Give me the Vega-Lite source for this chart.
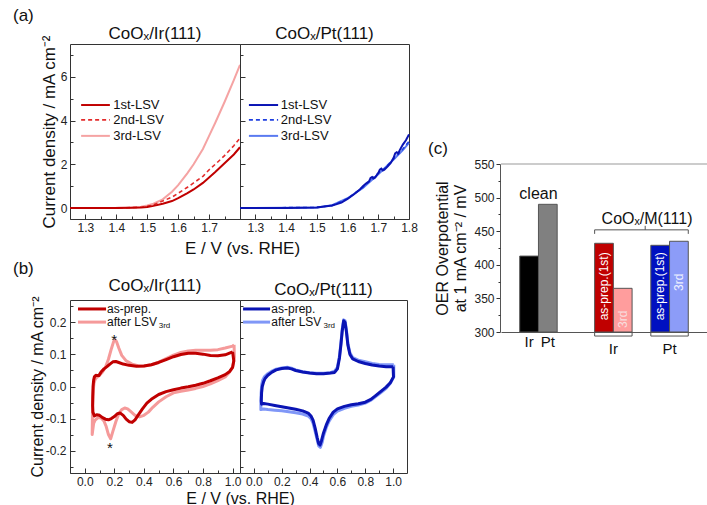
{
"$schema":"https://vega.github.io/schema/vega-lite/v6.json",
"padding":{"left":13,"top":7,"right":0,"bottom":0},
"background":"white",
"config":{
 "font":"Liberation Sans",
 "view":{"stroke":"#333","strokeWidth":1},
 "axis":{"domain":false,"grid":false,"labelFont":"Liberation Sans","labelFontSize":12,"labelColor":"#222","titleFont":"Liberation Sans","titleFontWeight":"normal","titleColor":"#111","tickColor":"#333","labelFlush":false,"labelOverlap":false,"labelBound":false,"tickCount":60},
 "title":{"font":"Liberation Sans","fontWeight":"normal","fontSize":17,"color":"#111"},
 "text":{"font":"Liberation Sans","color":"#111"}
},
"datasets":{
 "lsvIr":[
  {"s":"1st","E":1.25,"j":0},{"s":"1st","E":1.3,"j":0},{"s":"1st","E":1.35,"j":0},{"s":"1st","E":1.4,"j":0.005},{"s":"1st","E":1.45,"j":0.01},{"s":"1st","E":1.48,"j":0.02},{"s":"1st","E":1.5,"j":0.05},{"s":"1st","E":1.52,"j":0.1},{"s":"1st","E":1.55,"j":0.2},{"s":"1st","E":1.58,"j":0.32},{"s":"1st","E":1.6,"j":0.45},{"s":"1st","E":1.63,"j":0.68},{"s":"1st","E":1.65,"j":0.85},{"s":"1st","E":1.68,"j":1.15},{"s":"1st","E":1.7,"j":1.4},{"s":"1st","E":1.72,"j":1.65},{"s":"1st","E":1.75,"j":2.05},{"s":"1st","E":1.78,"j":2.45},{"s":"1st","E":1.8,"j":2.78},
  {"s":"2nd","E":1.25,"j":0},{"s":"2nd","E":1.4,"j":0.005},{"s":"2nd","E":1.45,"j":0.02},{"s":"2nd","E":1.48,"j":0.04},{"s":"2nd","E":1.5,"j":0.08},{"s":"2nd","E":1.52,"j":0.15},{"s":"2nd","E":1.55,"j":0.32},{"s":"2nd","E":1.58,"j":0.5},{"s":"2nd","E":1.6,"j":0.68},{"s":"2nd","E":1.63,"j":0.95},{"s":"2nd","E":1.65,"j":1.15},{"s":"2nd","E":1.68,"j":1.45},{"s":"2nd","E":1.7,"j":1.75},{"s":"2nd","E":1.72,"j":2.0},{"s":"2nd","E":1.75,"j":2.4},{"s":"2nd","E":1.78,"j":2.85},{"s":"2nd","E":1.8,"j":3.2},
  {"s":"3rd","E":1.25,"j":0},{"s":"3rd","E":1.4,"j":0.01},{"s":"3rd","E":1.45,"j":0.03},{"s":"3rd","E":1.48,"j":0.06},{"s":"3rd","E":1.5,"j":0.12},{"s":"3rd","E":1.52,"j":0.2},{"s":"3rd","E":1.55,"j":0.4},{"s":"3rd","E":1.58,"j":0.75},{"s":"3rd","E":1.6,"j":1.05},{"s":"3rd","E":1.63,"j":1.6},{"s":"3rd","E":1.65,"j":2.0},{"s":"3rd","E":1.68,"j":2.7},{"s":"3rd","E":1.7,"j":3.3},{"s":"3rd","E":1.72,"j":3.9},{"s":"3rd","E":1.75,"j":4.85},{"s":"3rd","E":1.78,"j":5.85},{"s":"3rd","E":1.8,"j":6.55}
 ],
 "lsvPt":[
  {"s":"1st","E":1.25,"j":0},{"s":"1st","E":1.4,"j":0},{"s":"1st","E":1.5,"j":0.03},{"s":"1st","E":1.55,"j":0.12},{"s":"1st","E":1.58,"j":0.25},{"s":"1st","E":1.6,"j":0.42},{"s":"1st","E":1.62,"j":0.62},{"s":"1st","E":1.64,"j":0.85},{"s":"1st","E":1.65,"j":1.0},{"s":"1st","E":1.66,"j":1.12},{"s":"1st","E":1.67,"j":1.22},{"s":"1st","E":1.675,"j":1.38},{"s":"1st","E":1.68,"j":1.42},{"s":"1st","E":1.685,"j":1.35},{"s":"1st","E":1.69,"j":1.4},{"s":"1st","E":1.7,"j":1.6},{"s":"1st","E":1.705,"j":1.75},{"s":"1st","E":1.71,"j":1.8},{"s":"1st","E":1.715,"j":1.72},{"s":"1st","E":1.72,"j":1.75},{"s":"1st","E":1.73,"j":1.9},{"s":"1st","E":1.74,"j":2.05},{"s":"1st","E":1.75,"j":2.3},{"s":"1st","E":1.755,"j":2.5},{"s":"1st","E":1.76,"j":2.55},{"s":"1st","E":1.765,"j":2.5},{"s":"1st","E":1.77,"j":2.65},{"s":"1st","E":1.78,"j":2.9},{"s":"1st","E":1.79,"j":3.1},{"s":"1st","E":1.8,"j":3.37},
  {"s":"2nd","E":1.25,"j":0},{"s":"2nd","E":1.5,"j":0.03},{"s":"2nd","E":1.55,"j":0.12},{"s":"2nd","E":1.6,"j":0.43},{"s":"2nd","E":1.65,"j":0.95},{"s":"2nd","E":1.7,"j":1.6},{"s":"2nd","E":1.72,"j":1.8},{"s":"2nd","E":1.75,"j":2.25},{"s":"2nd","E":1.78,"j":2.7},{"s":"2nd","E":1.8,"j":3.05},
  {"s":"3rd","E":1.25,"j":0},{"s":"3rd","E":1.5,"j":0.03},{"s":"3rd","E":1.55,"j":0.13},{"s":"3rd","E":1.6,"j":0.45},{"s":"3rd","E":1.65,"j":0.92},{"s":"3rd","E":1.7,"j":1.55},{"s":"3rd","E":1.75,"j":2.22},{"s":"3rd","E":1.78,"j":2.65},{"s":"3rd","E":1.8,"j":2.98}
 ],
 "cvIr":[
  {"s":"a","i":0,"E":1.0,"j":0.108},{"s":"a","i":1,"E":1.008,"j":0.08},{"s":"a","i":2,"E":1.0,"j":0.06},{"s":"a","i":3,"E":0.98,"j":0.047},{"s":"a","i":4,"E":0.95,"j":0.037},{"s":"a","i":5,"E":0.9,"j":0.027},{"s":"a","i":6,"E":0.85,"j":0.018},{"s":"a","i":7,"E":0.8,"j":0.01},{"s":"a","i":8,"E":0.75,"j":0.004},{"s":"a","i":9,"E":0.7,"j":-0.001},{"s":"a","i":10,"E":0.65,"j":-0.005},{"s":"a","i":11,"E":0.6,"j":-0.01},{"s":"a","i":12,"E":0.55,"j":-0.016},{"s":"a","i":13,"E":0.5,"j":-0.025},{"s":"a","i":14,"E":0.45,"j":-0.04},{"s":"a","i":15,"E":0.42,"j":-0.052},{"s":"a","i":16,"E":0.39,"j":-0.07},{"s":"a","i":17,"E":0.36,"j":-0.09},{"s":"a","i":18,"E":0.34,"j":-0.104},{"s":"a","i":19,"E":0.32,"j":-0.112},{"s":"a","i":20,"E":0.3,"j":-0.11},{"s":"a","i":21,"E":0.28,"j":-0.102},{"s":"a","i":22,"E":0.26,"j":-0.09},{"s":"a","i":23,"E":0.24,"j":-0.083},{"s":"a","i":24,"E":0.22,"j":-0.085},{"s":"a","i":25,"E":0.2,"j":-0.094},{"s":"a","i":26,"E":0.18,"j":-0.1},{"s":"a","i":27,"E":0.16,"j":-0.104},{"s":"a","i":28,"E":0.14,"j":-0.102},{"s":"a","i":29,"E":0.12,"j":-0.097},{"s":"a","i":30,"E":0.1,"j":-0.09},{"s":"a","i":31,"E":0.08,"j":-0.088},{"s":"a","i":32,"E":0.065,"j":-0.092},{"s":"a","i":33,"E":0.055,"j":-0.08},{"s":"a","i":34,"E":0.053,"j":-0.06},{"s":"a","i":35,"E":0.054,"j":-0.03},{"s":"a","i":36,"E":0.056,"j":0.0},{"s":"a","i":37,"E":0.06,"j":0.02},{"s":"a","i":38,"E":0.065,"j":0.03},{"s":"a","i":39,"E":0.075,"j":0.035},{"s":"a","i":40,"E":0.085,"j":0.034},{"s":"a","i":41,"E":0.095,"j":0.034},{"s":"a","i":42,"E":0.11,"j":0.045},{"s":"a","i":43,"E":0.13,"j":0.055},{"s":"a","i":44,"E":0.15,"j":0.062},{"s":"a","i":45,"E":0.17,"j":0.07},{"s":"a","i":46,"E":0.19,"j":0.077},{"s":"a","i":47,"E":0.21,"j":0.078},{"s":"a","i":48,"E":0.23,"j":0.075},{"s":"a","i":49,"E":0.26,"j":0.07},{"s":"a","i":50,"E":0.3,"j":0.066},{"s":"a","i":51,"E":0.35,"j":0.063},{"s":"a","i":52,"E":0.4,"j":0.064},{"s":"a","i":53,"E":0.45,"j":0.068},{"s":"a","i":54,"E":0.5,"j":0.075},{"s":"a","i":55,"E":0.55,"j":0.084},{"s":"a","i":56,"E":0.6,"j":0.093},{"s":"a","i":57,"E":0.65,"j":0.1},{"s":"a","i":58,"E":0.7,"j":0.104},{"s":"a","i":59,"E":0.75,"j":0.104},{"s":"a","i":60,"E":0.8,"j":0.101},{"s":"a","i":61,"E":0.85,"j":0.097},{"s":"a","i":62,"E":0.9,"j":0.096},{"s":"a","i":63,"E":0.95,"j":0.099},{"s":"a","i":64,"E":1.0,"j":0.108},
  {"s":"b","i":0,"E":1.01,"j":0.13},{"s":"b","i":1,"E":1.012,"j":0.09},{"s":"b","i":2,"E":1.0,"j":0.06},{"s":"b","i":3,"E":0.98,"j":0.045},{"s":"b","i":4,"E":0.95,"j":0.03},{"s":"b","i":5,"E":0.9,"j":0.018},{"s":"b","i":6,"E":0.85,"j":0.008},{"s":"b","i":7,"E":0.8,"j":0.0},{"s":"b","i":8,"E":0.75,"j":-0.006},{"s":"b","i":9,"E":0.7,"j":-0.011},{"s":"b","i":10,"E":0.65,"j":-0.015},{"s":"b","i":11,"E":0.6,"j":-0.02},{"s":"b","i":12,"E":0.55,"j":-0.032},{"s":"b","i":13,"E":0.5,"j":-0.048},{"s":"b","i":14,"E":0.46,"j":-0.065},{"s":"b","i":15,"E":0.43,"j":-0.08},{"s":"b","i":16,"E":0.4,"j":-0.09},{"s":"b","i":17,"E":0.37,"j":-0.095},{"s":"b","i":18,"E":0.34,"j":-0.09},{"s":"b","i":19,"E":0.31,"j":-0.078},{"s":"b","i":20,"E":0.29,"j":-0.07},{"s":"b","i":21,"E":0.27,"j":-0.067},{"s":"b","i":22,"E":0.25,"j":-0.072},{"s":"b","i":23,"E":0.23,"j":-0.085},{"s":"b","i":24,"E":0.21,"j":-0.11},{"s":"b","i":25,"E":0.19,"j":-0.14},{"s":"b","i":26,"E":0.175,"j":-0.163},{"s":"b","i":27,"E":0.16,"j":-0.15},{"s":"b","i":28,"E":0.145,"j":-0.125},{"s":"b","i":29,"E":0.13,"j":-0.108},{"s":"b","i":30,"E":0.11,"j":-0.098},{"s":"b","i":31,"E":0.09,"j":-0.097},{"s":"b","i":32,"E":0.07,"j":-0.105},{"s":"b","i":33,"E":0.06,"j":-0.115},{"s":"b","i":34,"E":0.05,"j":-0.15},{"s":"b","i":35,"E":0.051,"j":-0.12},{"s":"b","i":36,"E":0.052,"j":-0.08},{"s":"b","i":37,"E":0.055,"j":-0.04},{"s":"b","i":38,"E":0.058,"j":-0.01},{"s":"b","i":39,"E":0.062,"j":0.01},{"s":"b","i":40,"E":0.07,"j":0.022},{"s":"b","i":41,"E":0.08,"j":0.028},{"s":"b","i":42,"E":0.1,"j":0.035},{"s":"b","i":43,"E":0.12,"j":0.045},{"s":"b","i":44,"E":0.14,"j":0.06},{"s":"b","i":45,"E":0.16,"j":0.085},{"s":"b","i":46,"E":0.18,"j":0.118},{"s":"b","i":47,"E":0.195,"j":0.14},{"s":"b","i":48,"E":0.205,"j":0.146},{"s":"b","i":49,"E":0.215,"j":0.14},{"s":"b","i":50,"E":0.23,"j":0.12},{"s":"b","i":51,"E":0.25,"j":0.097},{"s":"b","i":52,"E":0.28,"j":0.08},{"s":"b","i":53,"E":0.32,"j":0.07},{"s":"b","i":54,"E":0.36,"j":0.065},{"s":"b","i":55,"E":0.4,"j":0.064},{"s":"b","i":56,"E":0.45,"j":0.068},{"s":"b","i":57,"E":0.5,"j":0.076},{"s":"b","i":58,"E":0.55,"j":0.087},{"s":"b","i":59,"E":0.6,"j":0.098},{"s":"b","i":60,"E":0.65,"j":0.106},{"s":"b","i":61,"E":0.7,"j":0.111},{"s":"b","i":62,"E":0.75,"j":0.113},{"s":"b","i":63,"E":0.8,"j":0.113},{"s":"b","i":64,"E":0.85,"j":0.113},{"s":"b","i":65,"E":0.9,"j":0.115},{"s":"b","i":66,"E":0.95,"j":0.12},{"s":"b","i":67,"E":1.0,"j":0.126},{"s":"b","i":68,"E":1.01,"j":0.13}
 ],
 "cvPt":[
  {"s":"a","i":0,"E":1.0,"j":0.062},{"s":"a","i":1,"E":1.003,"j":0.03},{"s":"a","i":2,"E":0.98,"j":0.012},{"s":"a","i":3,"E":0.95,"j":-0.002},{"s":"a","i":4,"E":0.91,"j":-0.016},{"s":"a","i":5,"E":0.87,"j":-0.03},{"s":"a","i":6,"E":0.84,"j":-0.04},{"s":"a","i":7,"E":0.8,"j":-0.049},{"s":"a","i":8,"E":0.75,"j":-0.054},{"s":"a","i":9,"E":0.7,"j":-0.057},{"s":"a","i":10,"E":0.65,"j":-0.062},{"s":"a","i":11,"E":0.6,"j":-0.07},{"s":"a","i":12,"E":0.57,"j":-0.08},{"s":"a","i":13,"E":0.54,"j":-0.1},{"s":"a","i":14,"E":0.52,"j":-0.12},{"s":"a","i":15,"E":0.5,"j":-0.145},{"s":"a","i":16,"E":0.485,"j":-0.17},{"s":"a","i":17,"E":0.475,"j":-0.183},{"s":"a","i":18,"E":0.465,"j":-0.178},{"s":"a","i":19,"E":0.455,"j":-0.16},{"s":"a","i":20,"E":0.44,"j":-0.13},{"s":"a","i":21,"E":0.425,"j":-0.105},{"s":"a","i":22,"E":0.41,"j":-0.092},{"s":"a","i":23,"E":0.39,"j":-0.083},{"s":"a","i":24,"E":0.35,"j":-0.076},{"s":"a","i":25,"E":0.3,"j":-0.071},{"s":"a","i":26,"E":0.25,"j":-0.067},{"s":"a","i":27,"E":0.2,"j":-0.063},{"s":"a","i":28,"E":0.15,"j":-0.059},{"s":"a","i":29,"E":0.1,"j":-0.055},{"s":"a","i":30,"E":0.07,"j":-0.053},{"s":"a","i":31,"E":0.055,"j":-0.055},{"s":"a","i":32,"E":0.053,"j":-0.045},{"s":"a","i":33,"E":0.055,"j":-0.02},{"s":"a","i":34,"E":0.06,"j":0.0},{"s":"a","i":35,"E":0.07,"j":0.015},{"s":"a","i":36,"E":0.08,"j":0.025},{"s":"a","i":37,"E":0.1,"j":0.035},{"s":"a","i":38,"E":0.13,"j":0.045},{"s":"a","i":39,"E":0.16,"j":0.052},{"s":"a","i":40,"E":0.2,"j":0.056},{"s":"a","i":41,"E":0.24,"j":0.058},{"s":"a","i":42,"E":0.27,"j":0.055},{"s":"a","i":43,"E":0.3,"j":0.05},{"s":"a","i":44,"E":0.35,"j":0.045},{"s":"a","i":45,"E":0.4,"j":0.042},{"s":"a","i":46,"E":0.45,"j":0.04},{"s":"a","i":47,"E":0.5,"j":0.04},{"s":"a","i":48,"E":0.55,"j":0.042},{"s":"a","i":49,"E":0.58,"j":0.044},{"s":"a","i":50,"E":0.6,"j":0.055},{"s":"a","i":51,"E":0.615,"j":0.09},{"s":"a","i":52,"E":0.625,"j":0.13},{"s":"a","i":53,"E":0.635,"j":0.175},{"s":"a","i":54,"E":0.645,"j":0.205},{"s":"a","i":55,"E":0.655,"j":0.2},{"s":"a","i":56,"E":0.665,"j":0.17},{"s":"a","i":57,"E":0.675,"j":0.13},{"s":"a","i":58,"E":0.69,"j":0.1},{"s":"a","i":59,"E":0.71,"j":0.086},{"s":"a","i":60,"E":0.75,"j":0.078},{"s":"a","i":61,"E":0.8,"j":0.072},{"s":"a","i":62,"E":0.85,"j":0.067},{"s":"a","i":63,"E":0.9,"j":0.064},{"s":"a","i":64,"E":0.95,"j":0.062},{"s":"a","i":65,"E":1.0,"j":0.062},
  {"s":"b","i":0,"E":1.005,"j":0.068},{"s":"b","i":1,"E":1.005,"j":0.03},{"s":"b","i":2,"E":0.98,"j":0.01},{"s":"b","i":3,"E":0.95,"j":-0.006},{"s":"b","i":4,"E":0.91,"j":-0.02},{"s":"b","i":5,"E":0.87,"j":-0.033},{"s":"b","i":6,"E":0.84,"j":-0.043},{"s":"b","i":7,"E":0.8,"j":-0.052},{"s":"b","i":8,"E":0.75,"j":-0.058},{"s":"b","i":9,"E":0.7,"j":-0.062},{"s":"b","i":10,"E":0.65,"j":-0.068},{"s":"b","i":11,"E":0.6,"j":-0.077},{"s":"b","i":12,"E":0.57,"j":-0.088},{"s":"b","i":13,"E":0.54,"j":-0.108},{"s":"b","i":14,"E":0.52,"j":-0.128},{"s":"b","i":15,"E":0.5,"j":-0.155},{"s":"b","i":16,"E":0.49,"j":-0.175},{"s":"b","i":17,"E":0.478,"j":-0.19},{"s":"b","i":18,"E":0.465,"j":-0.185},{"s":"b","i":19,"E":0.455,"j":-0.167},{"s":"b","i":20,"E":0.44,"j":-0.14},{"s":"b","i":21,"E":0.425,"j":-0.114},{"s":"b","i":22,"E":0.41,"j":-0.1},{"s":"b","i":23,"E":0.39,"j":-0.092},{"s":"b","i":24,"E":0.35,"j":-0.086},{"s":"b","i":25,"E":0.3,"j":-0.082},{"s":"b","i":26,"E":0.25,"j":-0.079},{"s":"b","i":27,"E":0.2,"j":-0.076},{"s":"b","i":28,"E":0.15,"j":-0.074},{"s":"b","i":29,"E":0.1,"j":-0.072},{"s":"b","i":30,"E":0.07,"j":-0.07},{"s":"b","i":31,"E":0.05,"j":-0.072},{"s":"b","i":32,"E":0.05,"j":-0.05},{"s":"b","i":33,"E":0.052,"j":-0.02},{"s":"b","i":34,"E":0.056,"j":0.005},{"s":"b","i":35,"E":0.063,"j":0.02},{"s":"b","i":36,"E":0.075,"j":0.03},{"s":"b","i":37,"E":0.1,"j":0.04},{"s":"b","i":38,"E":0.13,"j":0.048},{"s":"b","i":39,"E":0.16,"j":0.054},{"s":"b","i":40,"E":0.2,"j":0.058},{"s":"b","i":41,"E":0.24,"j":0.06},{"s":"b","i":42,"E":0.27,"j":0.057},{"s":"b","i":43,"E":0.3,"j":0.052},{"s":"b","i":44,"E":0.35,"j":0.046},{"s":"b","i":45,"E":0.4,"j":0.043},{"s":"b","i":46,"E":0.45,"j":0.041},{"s":"b","i":47,"E":0.5,"j":0.041},{"s":"b","i":48,"E":0.55,"j":0.043},{"s":"b","i":49,"E":0.58,"j":0.048},{"s":"b","i":50,"E":0.6,"j":0.06},{"s":"b","i":51,"E":0.615,"j":0.095},{"s":"b","i":52,"E":0.625,"j":0.135},{"s":"b","i":53,"E":0.635,"j":0.18},{"s":"b","i":54,"E":0.645,"j":0.208},{"s":"b","i":55,"E":0.655,"j":0.205},{"s":"b","i":56,"E":0.665,"j":0.175},{"s":"b","i":57,"E":0.675,"j":0.135},{"s":"b","i":58,"E":0.69,"j":0.105},{"s":"b","i":59,"E":0.71,"j":0.09},{"s":"b","i":60,"E":0.75,"j":0.082},{"s":"b","i":61,"E":0.8,"j":0.077},{"s":"b","i":62,"E":0.85,"j":0.072},{"s":"b","i":63,"E":0.9,"j":0.069},{"s":"b","i":64,"E":0.95,"j":0.068},{"s":"b","i":65,"E":1.005,"j":0.068}
 ],
 "bars":[
  {"cat":"Ir-clean","v":413},{"cat":"Pt-clean","v":490},{"cat":"Ir-as","v":432},{"cat":"Ir-3rd","v":365},{"cat":"Pt-as","v":429},{"cat":"Pt-3rd","v":435}
 ]
},
"columns":3,
"spacing":{"row":81,"column":0},
"bounds":"flush",
"align":"each",
"concat":[
 {
  "width":170,"height":175,
  "title":{"text":"CoOₓ/Ir(111)","offset":-8},
  "resolve":{"axis":{"x":"independent","y":"independent"}},
  "layer":[
   {"layer":[
    {"data":{"name":"lsvIr"},"transform":[{"filter":"datum.s=='3rd'"}],"mark":{"type":"line","color":"#f5a3a3","strokeWidth":2},
     "encoding":{
      "x":{"field":"E","type":"quantitative","scale":{"domain":[1.25,1.8],"nice":false,"zero":false},
       "axis":{"values":[1.3,1.4,1.5,1.6,1.7],"tickCount":60,"format":".1f","tickSize":-5,"labelPadding":8,"labelOverlap":false,"title":"E / V (vs. RHE)","titleFontSize":17,"titleX":172,"titleY":29,"titleBaseline":"middle"}},
      "y":{"field":"j","type":"quantitative","scale":{"domain":[-0.5,7.5],"nice":false,"zero":false},
       "axis":{"values":[0,2,4,6],"tickCount":60,"format":"d","tickSize":-5,"labelPadding":8,"labelOverlap":false,"title":"Current density / mA cm⁻²","titleFontSize":17,"titlePadding":2}}}},
    {"data":{"name":"lsvIr"},"transform":[{"filter":"datum.s=='2nd'"}],"mark":{"type":"line","color":"#e32b2b","strokeWidth":1.6,"strokeDash":[4,3]},"encoding":{"x":{"field":"E","type":"quantitative"},"y":{"field":"j","type":"quantitative"}}},
    {"data":{"name":"lsvIr"},"transform":[{"filter":"datum.s=='1st'"}],"mark":{"type":"line","color":"#c00000","strokeWidth":2},"encoding":{"x":{"field":"E","type":"quantitative"},"y":{"field":"j","type":"quantitative"}}},
    {"data":{"values":[{}]},"mark":{"type":"rule","color":"#c00000","strokeWidth":2},"encoding":{"x":{"datum":1.286},"x2":{"datum":1.379},"y":{"datum":4.71}}},
    {"data":{"values":[{}]},"mark":{"type":"rule","color":"#e32b2b","strokeWidth":1.6,"strokeDash":[4,3]},"encoding":{"x":{"datum":1.286},"x2":{"datum":1.379},"y":{"datum":4.03}}},
    {"data":{"values":[{}]},"mark":{"type":"rule","color":"#f5a3a3","strokeWidth":2},"encoding":{"x":{"datum":1.286},"x2":{"datum":1.379},"y":{"datum":3.3}}},
    {"data":{"values":[{}]},"mark":{"type":"text","text":"1st-LSV","align":"left","baseline":"middle","fontSize":13},"encoding":{"x":{"datum":1.39},"y":{"datum":4.71}}},
    {"data":{"values":[{}]},"mark":{"type":"text","text":"2nd-LSV","align":"left","baseline":"middle","fontSize":13},"encoding":{"x":{"datum":1.39},"y":{"datum":4.03}}},
    {"data":{"values":[{}]},"mark":{"type":"text","text":"3rd-LSV","align":"left","baseline":"middle","fontSize":13},"encoding":{"x":{"datum":1.39},"y":{"datum":3.3}}}
   ]},
   {"data":{"values":[{}]},"mark":{"type":"point","opacity":0},"encoding":{
     "x":{"datum":1.5,"type":"quantitative","axis":{"orient":"bottom","values":[1.25,1.35,1.45,1.55,1.65,1.75],"tickCount":60,"labels":false,"tickSize":-3,"title":null}},
     "y":{"datum":1,"type":"quantitative","axis":{"orient":"left","values":[1,3,5,7],"tickCount":60,"labels":false,"tickSize":-3,"title":null}}}}
  ]
 },
 {
  "width":169,"height":175,
  "title":{"text":"CoOₓ/Pt(111)","offset":1},
  "resolve":{"axis":{"x":"independent","y":"independent"}},
  "layer":[
   {"layer":[
    {"data":{"name":"lsvPt"},"transform":[{"filter":"datum.s=='3rd'"}],"mark":{"type":"line","color":"#5a7af0","strokeWidth":2},
     "encoding":{
      "x":{"field":"E","type":"quantitative","scale":{"domain":[1.25,1.8],"nice":false,"zero":false},
       "axis":{"values":[1.3,1.4,1.5,1.6,1.7,1.8],"tickCount":60,"format":".1f","tickSize":-5,"labelPadding":8,"labelOverlap":false,"title":null}},
      "y":{"field":"j","type":"quantitative","scale":{"domain":[-0.5,7.5],"nice":false,"zero":false},
       "axis":{"values":[0,2,4,6],"tickCount":60,"labels":false,"tickSize":-5,"title":null}}}},
    {"data":{"name":"lsvPt"},"transform":[{"filter":"datum.s=='2nd'"}],"mark":{"type":"line","color":"#1f3fe0","strokeWidth":1.6,"strokeDash":[4,3]},"encoding":{"x":{"field":"E","type":"quantitative"},"y":{"field":"j","type":"quantitative"}}},
    {"data":{"name":"lsvPt"},"transform":[{"filter":"datum.s=='1st'"}],"mark":{"type":"line","color":"#0a14b4","strokeWidth":2},"encoding":{"x":{"field":"E","type":"quantitative"},"y":{"field":"j","type":"quantitative"}}},
    {"data":{"values":[{}]},"mark":{"type":"rule","color":"#0a14b4","strokeWidth":2},"encoding":{"x":{"datum":1.279},"x2":{"datum":1.374},"y":{"datum":4.71}}},
    {"data":{"values":[{}]},"mark":{"type":"rule","color":"#1f3fe0","strokeWidth":1.6,"strokeDash":[4,3]},"encoding":{"x":{"datum":1.279},"x2":{"datum":1.374},"y":{"datum":4.03}}},
    {"data":{"values":[{}]},"mark":{"type":"rule","color":"#5a7af0","strokeWidth":2},"encoding":{"x":{"datum":1.279},"x2":{"datum":1.374},"y":{"datum":3.3}}},
    {"data":{"values":[{}]},"mark":{"type":"text","text":"1st-LSV","align":"left","baseline":"middle","fontSize":13},"encoding":{"x":{"datum":1.383},"y":{"datum":4.71}}},
    {"data":{"values":[{}]},"mark":{"type":"text","text":"2nd-LSV","align":"left","baseline":"middle","fontSize":13},"encoding":{"x":{"datum":1.383},"y":{"datum":4.03}}},
    {"data":{"values":[{}]},"mark":{"type":"text","text":"3rd-LSV","align":"left","baseline":"middle","fontSize":13},"encoding":{"x":{"datum":1.383},"y":{"datum":3.3}}}
   ]},
   {"data":{"values":[{}]},"mark":{"type":"point","opacity":0},"encoding":{
     "x":{"datum":1.5,"type":"quantitative","axis":{"orient":"bottom","values":[1.25,1.35,1.45,1.55,1.65,1.75],"tickCount":60,"labels":false,"tickSize":-3,"title":null}},
     "y":{"datum":1,"type":"quantitative","axis":{"orient":"left","values":[1,3,5,7],"tickCount":60,"labels":false,"tickSize":-3,"title":null}}}}
  ]
 },
 {
  "width":298,"height":175,
  "view":{"stroke":null},
  "resolve":{"axis":{"y":"independent"}},
  "layer":[
   {"layer":[
    {"data":{"name":"bars"},"mark":{"type":"bar","stroke":"#555","strokeWidth":1},
     "encoding":{
      "x":{"field":"cat","type":"nominal","scale":{"domain":["s0","Ir-clean","Pt-clean","s1","s2","Ir-as","Ir-3rd","s3","Pt-as","Pt-3rd","s4"],"range":[92,298],"paddingInner":0,"paddingOuter":0},
       "axis":{"labels":false,"ticks":false,"domain":true,"domainColor":"#555","title":null,"offset":113}},
      "y":{"field":"v","type":"quantitative","scale":{"domain":[300,550],"range":[288,120],"nice":false,"zero":false},
       "axis":{"values":[300,350,400,450,500,550],"tickCount":60,"format":"d","tickSize":4,"labelPadding":2,"labelOverlap":false,"domain":true,"domainColor":"#555","offset":-91,"title":["OER Overpotential","at 1 mA cm⁻² / mV"],"titleFontSize":16,"titlePadding":5}},
      "y2":{"datum":300},
      "color":{"field":"cat","type":"nominal","scale":{"domain":["Ir-clean","Pt-clean","Ir-as","Ir-3rd","Pt-as","Pt-3rd"],"range":["#000000","#808080","#c00000","#ff9d9d","#0010c0","#8c9cf8"]},"legend":null}}},
    {"data":{"values":[{}]},"mark":{"type":"rule","color":"#999","strokeWidth":1},"encoding":{"x":{"datum":"s0","type":"nominal","bandPosition":0},"x2":{"datum":"s4","bandPosition":1},"y":{"datum":550}}},
    {"data":{"values":[{}]},"mark":{"type":"rule","color":"#555","strokeWidth":1},"encoding":{"x":{"datum":"Ir-as","type":"nominal","bandPosition":0},"x2":{"datum":"Pt-3rd","bandPosition":1},"y":{"datum":452}}},
    {"data":{"values":[{}]},"mark":{"type":"rule","color":"#555","strokeWidth":1},"encoding":{"x":{"datum":"Ir-as","type":"nominal","bandPosition":0},"y":{"datum":452},"y2":{"datum":446}}},
    {"data":{"values":[{}]},"mark":{"type":"rule","color":"#555","strokeWidth":1},"encoding":{"x":{"datum":"Pt-3rd","type":"nominal","bandPosition":1},"y":{"datum":452},"y2":{"datum":446}}},
    {"data":{"values":[{}]},"mark":{"type":"rule","color":"#555","strokeWidth":1},"encoding":{"x":{"datum":"s3","type":"nominal","bandPosition":0.7},"y":{"datum":452},"y2":{"datum":458}}},
    {"data":{"values":[{}]},"mark":{"type":"rule","color":"#555","strokeWidth":1},"encoding":{"x":{"datum":"Ir-as","type":"nominal","bandPosition":0},"x2":{"datum":"Ir-3rd","bandPosition":1},"y":{"datum":294}}},
    {"data":{"values":[{}]},"mark":{"type":"rule","color":"#555","strokeWidth":1},"encoding":{"x":{"datum":"Ir-as","type":"nominal","bandPosition":0},"y":{"datum":300},"y2":{"datum":294}}},
    {"data":{"values":[{}]},"mark":{"type":"rule","color":"#555","strokeWidth":1},"encoding":{"x":{"datum":"Ir-3rd","type":"nominal","bandPosition":1},"y":{"datum":300},"y2":{"datum":294}}},
    {"data":{"values":[{}]},"mark":{"type":"rule","color":"#555","strokeWidth":1},"encoding":{"x":{"datum":"Pt-as","type":"nominal","bandPosition":0},"x2":{"datum":"Pt-3rd","bandPosition":1},"y":{"datum":294}}},
    {"data":{"values":[{}]},"mark":{"type":"rule","color":"#555","strokeWidth":1},"encoding":{"x":{"datum":"Pt-as","type":"nominal","bandPosition":0},"y":{"datum":300},"y2":{"datum":294}}},
    {"data":{"values":[{}]},"mark":{"type":"rule","color":"#555","strokeWidth":1},"encoding":{"x":{"datum":"Pt-3rd","type":"nominal","bandPosition":1},"y":{"datum":300},"y2":{"datum":294}}},
    {"data":{"values":[{}]},"mark":{"type":"text","text":"clean","fontSize":16,"baseline":"middle"},"encoding":{"x":{"datum":"Ir-clean","type":"nominal","bandPosition":1},"y":{"datum":505}}},
    {"data":{"values":[{}]},"mark":{"type":"text","text":"CoOₓ/M(111)","fontSize":16,"baseline":"middle"},"encoding":{"x":{"datum":"s3","type":"nominal","bandPosition":0.8},"y":{"datum":468}}},
    {"data":{"values":[{}]},"mark":{"type":"text","text":"(c)","fontSize":17,"align":"left","baseline":"middle","dx":-73},"encoding":{"x":{"datum":"s0","type":"nominal","bandPosition":0},"y":{"datum":572}}},
    {"data":{"values":[{}]},"mark":{"type":"text","text":"(a)","fontSize":17,"align":"left","baseline":"middle","dx":-488},"encoding":{"x":{"datum":"s0","type":"nominal","bandPosition":0},"y":{"datum":770}}},
    {"data":{"values":[{}]},"mark":{"type":"text","text":"(b)","fontSize":17,"align":"left","baseline":"middle","dx":-488},"encoding":{"x":{"datum":"s0","type":"nominal","bandPosition":0},"y":{"datum":393.75}}},
    {"data":{"values":[{}]},"mark":{"type":"text","text":"Ir","fontSize":15,"baseline":"middle"},"encoding":{"x":{"datum":"Ir-clean","type":"nominal","bandPosition":0.5},"y":{"datum":285}}},
    {"data":{"values":[{}]},"mark":{"type":"text","text":"Pt","fontSize":15,"baseline":"middle"},"encoding":{"x":{"datum":"Pt-clean","type":"nominal","bandPosition":0.5},"y":{"datum":285}}},
    {"data":{"values":[{}]},"mark":{"type":"text","text":"Ir","fontSize":15,"baseline":"middle"},"encoding":{"x":{"datum":"Ir-as","type":"nominal","bandPosition":1},"y":{"datum":274}}},
    {"data":{"values":[{}]},"mark":{"type":"text","text":"Pt","fontSize":15,"baseline":"middle"},"encoding":{"x":{"datum":"Pt-as","type":"nominal","bandPosition":1},"y":{"datum":274}}},
    {"data":{"values":[{}]},"mark":{"type":"text","text":"as-prep.(1st)","fontSize":12,"angle":270,"baseline":"middle","color":"white"},"encoding":{"x":{"datum":"Ir-as","type":"nominal","bandPosition":0.5},"y":{"datum":368}}},
    {"data":{"values":[{}]},"mark":{"type":"text","text":"as-prep.(1st)","fontSize":12,"angle":270,"baseline":"middle","color":"white"},"encoding":{"x":{"datum":"Pt-as","type":"nominal","bandPosition":0.5},"y":{"datum":368}}},
    {"data":{"values":[{}]},"mark":{"type":"text","text":"3rd","fontSize":12,"angle":270,"baseline":"middle","color":"#f8dede"},"encoding":{"x":{"datum":"Ir-3rd","type":"nominal","bandPosition":0.5},"y":{"datum":319}}},
    {"data":{"values":[{}]},"mark":{"type":"text","text":"3rd","fontSize":12,"angle":270,"baseline":"middle","color":"#eef1ff"},"encoding":{"x":{"datum":"Pt-3rd","type":"nominal","bandPosition":0.5},"y":{"datum":374}}}
   ]},
   {"data":{"values":[{}]},"mark":{"type":"point","opacity":0},"encoding":{
     "y":{"datum":400,"type":"quantitative","axis":{"orient":"left","values":[325,375,425,475,525],"tickCount":60,"labels":false,"tickSize":2,"domain":false,"offset":-91,"title":null}}}}
  ]
 },
 {
  "width":170,"height":173,
  "title":{"text":"CoOₓ/Ir(111)","offset":1},
  "resolve":{"axis":{"x":"independent","y":"independent"}},
  "layer":[
   {"layer":[
    {"data":{"name":"cvIr"},"transform":[{"filter":"datum.s=='b'"}],"mark":{"type":"line","color":"#f59a9a","strokeWidth":3,"strokeJoin":"round"},
     "encoding":{
      "x":{"field":"E","type":"quantitative","scale":{"domain":[-0.1,1.05],"nice":false,"zero":false},
       "axis":{"values":[0,0.2,0.4,0.6,0.8,1.0],"tickCount":60,"format":".1f","tickSize":-5,"labelPadding":8,"labelOverlap":false,"title":"E / V (vs. RHE)","titleFontSize":16,"titleX":170,"titleY":25,"titleBaseline":"middle"}},
      "y":{"field":"j","type":"quantitative","scale":{"domain":[-0.27,0.27],"nice":false,"zero":false},
       "axis":{"values":[-0.2,-0.1,0,0.1,0.2],"tickCount":60,"labelExpr":"replace(format(datum.value,'.1f'),'−','-')","tickSize":-5,"labelPadding":9,"labelOverlap":false,"title":"Current density / mA cm⁻²","titleFontSize":16,"titlePadding":0}},
      "order":{"field":"i","type":"quantitative"}}},
    {"data":{"name":"cvIr"},"transform":[{"filter":"datum.s=='a'"}],"mark":{"type":"line","color":"#c00000","strokeWidth":3,"strokeJoin":"round"},"encoding":{"x":{"field":"E","type":"quantitative"},"y":{"field":"j","type":"quantitative"},"order":{"field":"i","type":"quantitative"}}},
    {"data":{"values":[{}]},"mark":{"type":"rule","color":"#c00000","strokeWidth":3},"encoding":{"x":{"datum":-0.046},"x2":{"datum":0.144},"y":{"datum":0.242}}},
    {"data":{"values":[{}]},"mark":{"type":"rule","color":"#f59a9a","strokeWidth":3},"encoding":{"x":{"datum":-0.046},"x2":{"datum":0.144},"y":{"datum":0.201}}},
    {"data":{"values":[{}]},"mark":{"type":"text","text":"as-prep.","align":"left","baseline":"middle","fontSize":12},"encoding":{"x":{"datum":0.15},"y":{"datum":0.242}}},
    {"data":{"values":[{}]},"mark":{"type":"text","text":"after LSV","align":"left","baseline":"middle","fontSize":12},"encoding":{"x":{"datum":0.15},"y":{"datum":0.201}}},
    {"data":{"values":[{}]},"mark":{"type":"text","text":"3rd","align":"left","baseline":"middle","fontSize":8,"dy":4},"encoding":{"x":{"datum":0.5},"y":{"datum":0.201}}},
    {"data":{"values":[{}]},"mark":{"type":"text","text":"*","baseline":"middle","fontSize":15,"dy":4},"encoding":{"x":{"datum":0.198},"y":{"datum":0.158}}},
    {"data":{"values":[{}]},"mark":{"type":"text","text":"*","baseline":"middle","fontSize":15,"dy":4},"encoding":{"x":{"datum":0.17},"y":{"datum":-0.18}}}
   ]},
   {"data":{"values":[{}]},"mark":{"type":"point","opacity":0},"encoding":{
     "x":{"datum":0.5,"type":"quantitative","axis":{"orient":"bottom","values":[-0.1,0.1,0.3,0.5,0.7,0.9],"tickCount":60,"labels":false,"tickSize":-3,"title":null}},
     "y":{"datum":0,"type":"quantitative","axis":{"orient":"left","values":[-0.25,-0.15,-0.05,0.05,0.15,0.25],"tickCount":60,"labels":false,"tickSize":-3,"title":null}}}}
  ]
 },
 {
  "width":167,"height":173,
  "title":{"text":"CoOₓ/Pt(111)","offset":1},
  "resolve":{"axis":{"x":"independent","y":"independent"}},
  "layer":[
   {"layer":[
    {"data":{"name":"cvPt"},"transform":[{"filter":"datum.s=='b'"}],"mark":{"type":"line","color":"#8097f7","strokeWidth":3,"strokeJoin":"round"},
     "encoding":{
      "x":{"field":"E","type":"quantitative","scale":{"domain":[-0.1,1.1],"nice":false,"zero":false},
       "axis":{"values":[0,0.2,0.4,0.6,0.8,1.0],"tickCount":60,"format":".1f","tickSize":-5,"labelPadding":8,"labelOverlap":false,"title":null}},
      "y":{"field":"j","type":"quantitative","scale":{"domain":[-0.27,0.27],"nice":false,"zero":false},
       "axis":{"values":[-0.2,-0.1,0,0.1,0.2],"tickCount":60,"labels":false,"tickSize":-5,"title":null}},
      "order":{"field":"i","type":"quantitative"}}},
    {"data":{"name":"cvPt"},"transform":[{"filter":"datum.s=='a'"}],"mark":{"type":"line","color":"#0a14b4","strokeWidth":3,"strokeJoin":"round"},"encoding":{"x":{"field":"E","type":"quantitative"},"y":{"field":"j","type":"quantitative"},"order":{"field":"i","type":"quantitative"}}},
    {"data":{"values":[{}]},"mark":{"type":"rule","color":"#0a14b4","strokeWidth":3},"encoding":{"x":{"datum":-0.078},"x2":{"datum":0.116},"y":{"datum":0.242}}},
    {"data":{"values":[{}]},"mark":{"type":"rule","color":"#8097f7","strokeWidth":3},"encoding":{"x":{"datum":-0.078},"x2":{"datum":0.116},"y":{"datum":0.201}}},
    {"data":{"values":[{}]},"mark":{"type":"text","text":"as-prep.","align":"left","baseline":"middle","fontSize":12},"encoding":{"x":{"datum":0.125},"y":{"datum":0.242}}},
    {"data":{"values":[{}]},"mark":{"type":"text","text":"after LSV","align":"left","baseline":"middle","fontSize":12},"encoding":{"x":{"datum":0.125},"y":{"datum":0.201}}},
    {"data":{"values":[{}]},"mark":{"type":"text","text":"3rd","align":"left","baseline":"middle","fontSize":8,"dy":4},"encoding":{"x":{"datum":0.5},"y":{"datum":0.201}}}
   ]},
   {"data":{"values":[{}]},"mark":{"type":"point","opacity":0},"encoding":{
     "x":{"datum":0.5,"type":"quantitative","axis":{"orient":"bottom","values":[-0.1,0.1,0.3,0.5,0.7,0.9],"tickCount":60,"labels":false,"tickSize":-3,"title":null}},
     "y":{"datum":0,"type":"quantitative","axis":{"orient":"left","values":[-0.25,-0.15,-0.05,0.05,0.15,0.25],"tickCount":60,"labels":false,"tickSize":-3,"title":null}}}}
  ]
 }
]
}
